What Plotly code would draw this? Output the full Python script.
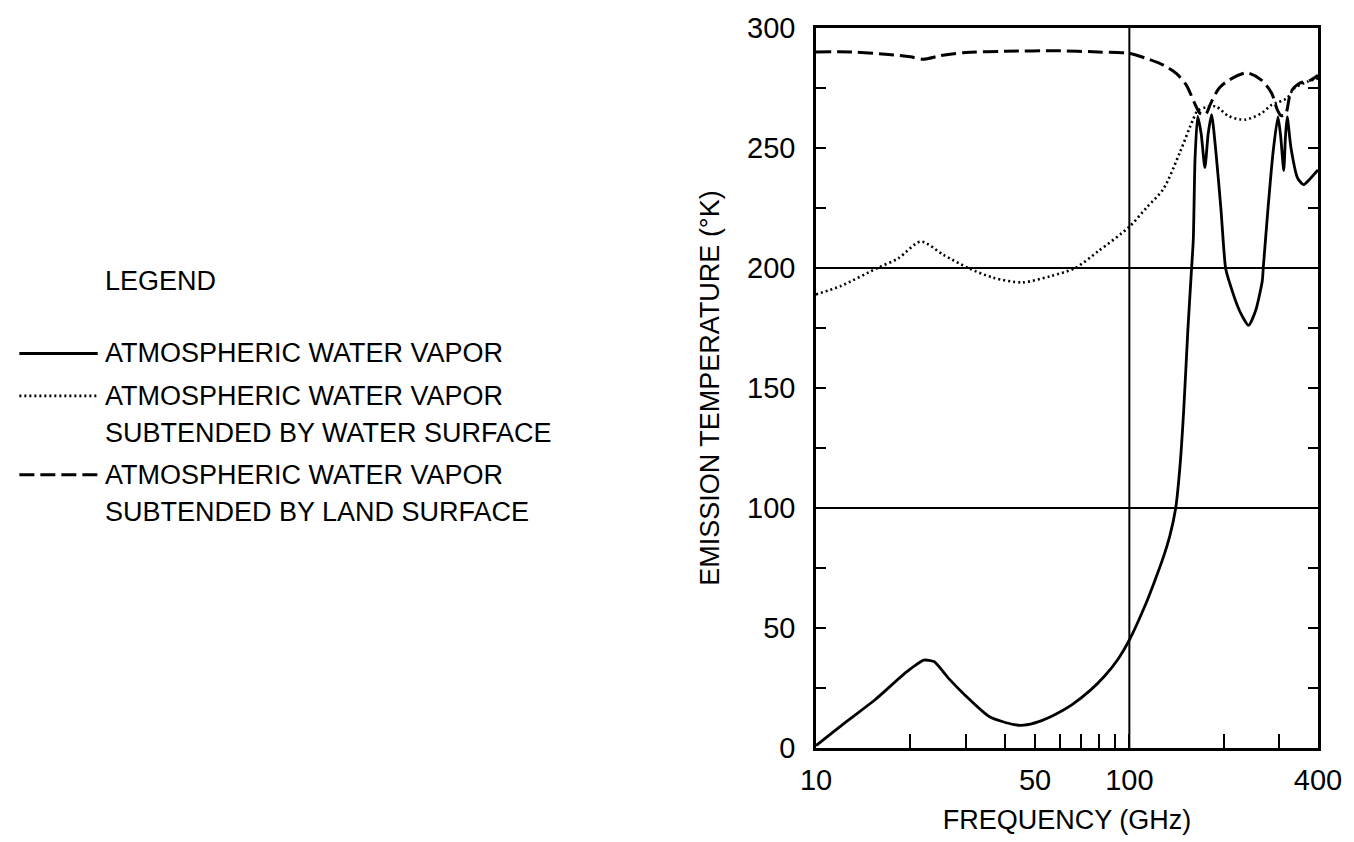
import plotly.graph_objects as go

# ---------------- data ----------------
freq_vapor = [10, 12.5, 15.4, 19.5, 22.1, 23.8, 26.5, 29.9, 35.8, 42.9, 46, 51.4, 58, 65.5, 75,
              83.4, 92, 100, 112.8, 120, 128, 134.7, 140.6, 145, 149, 153.7, 157.5, 160, 162, 165.2,
              169.5, 174.2, 178.5, 183, 188.9, 195.9, 202.8, 208, 224.5, 240, 253, 265.6, 267.5,
              277.5, 287.6, 298, 304, 311, 315, 319, 328, 344, 359.6, 375, 400]
temp_vapor = [1, 11, 20, 31.8, 36.6, 36, 29, 22, 13, 9.7, 9.5, 11, 14, 18, 24,
              30, 37, 45, 60, 69, 79, 88.5, 100, 117, 140, 174, 197, 212, 245, 263.2,
              256, 241.9, 256, 263.9, 248.4, 225, 200, 194.6, 182.3, 176.1, 182.3, 194.6, 200,
              226, 248.4, 263, 255, 240.6, 255, 263, 250, 237.6, 234.7, 236.8, 240.9]

freq_water = [10, 12, 15.7, 18.3, 21.6, 25.5, 30.6, 36.7, 45.4, 56, 67.2, 79.4, 100, 113.9, 128.5,
              144.8, 159.6, 165, 176, 188.9, 208, 234, 264, 284.6, 298, 311, 320, 336, 370, 400]
temp_water = [189, 192.5, 200, 204, 211, 205.5, 200, 196, 194, 196.6, 200, 206.9, 217.2, 225.4, 233,
              248, 261.8, 265.5, 267, 267.3, 263.2, 261.8, 264.5, 268, 269, 270, 271, 274.9, 277.6, 279]

freq_land = [10, 13, 17, 20, 22, 25, 30, 40, 60, 79.4, 100, 113.9, 128.5, 141.4, 152, 161.5, 168,
             175, 182, 193.3, 208, 237, 264, 284.6, 296.5, 305, 315, 328, 348, 379, 400]
temp_land = [290, 290, 289, 288, 287, 288.5, 289.8, 290.3, 290.5, 290, 289.4, 287.2, 284.5, 281,
             276.2, 268.7, 264.5, 264, 268.7, 274.9, 278.3, 281.3, 278.3, 272.8, 266, 263.5, 264,
             273.5, 276.9, 278.3, 280.3]

series_names = ["ATMOSPHERIC WATER VAPOR",
                "ATMOSPHERIC WATER VAPOR<br>SUBTENDED BY WATER SURFACE",
                "ATMOSPHERIC WATER VAPOR<br>SUBTENDED BY LAND SURFACE"]

x_tick_values = [10, 20, 30, 40, 50, 60, 70, 80, 90, 100, 200, 300, 400]
x_tick_labels = ["10", "", "", "", "50", "", "", "", "", "100", "", "", "400"]
y_tick_values = [0, 25, 50, 75, 100, 125, 150, 175, 200, 225, 250, 275, 300]
y_tick_labels = ["0", "", "50", "", "100", "", "150", "", "200", "", "250", "", "300"]
grid_y = [100, 200]
grid_x = [100]

# ---------------- layout geometry ----------------
W, H = 1354, 842
ML, MR, MT, MB = 816, 32, 24, 88
FONT = "Liberation Sans, Arial, Helvetica, sans-serif"

def px_x(px):
    return (px - ML) / (W - ML - MR)

def px_y(py):
    return 1 - (py - MT) / (H - MT - MB)

styles = [dict(color="black", width=2.8),
          dict(color="black", width=2.6, dash="2px,3px"),
          dict(color="black", width=3, dash="15px,6px")]

fig = go.Figure()
fig.add_trace(go.Scatter(x=freq_vapor, y=temp_vapor, mode="lines", name=series_names[0],
                         line=dict(**styles[0], shape="spline", smoothing=0.6)))
fig.add_trace(go.Scatter(x=freq_water, y=temp_water, mode="lines", name=series_names[1],
                         line=dict(**styles[1], shape="spline", smoothing=0.8)))
fig.add_trace(go.Scatter(x=freq_land, y=temp_land, mode="lines", name=series_names[2],
                         line=dict(**styles[2], shape="spline", smoothing=0.8)))

shapes = []
for gy in grid_y:
    shapes.append(dict(type="line", xref="paper", yref="y", x0=0, x1=1, y0=gy, y1=gy,
                       line=dict(color="black", width=2), layer="below"))
for gx in grid_x:
    shapes.append(dict(type="line", xref="x", yref="paper", x0=gx, x1=gx, y0=0, y1=1,
                       line=dict(color="black", width=2), layer="below"))

# custom legend (samples + text)
LEG_FONT = dict(family=FONT, size=27, color="black")
annotations = [dict(text="LEGEND", xref="paper", yref="paper", x=px_x(97), y=px_y(281),
                    xanchor="left", yanchor="middle", showarrow=False, font=LEG_FONT)]
legend_rows = [(354, [series_names[0]]),
               (397, series_names[1].split("<br>")),
               (477, series_names[2].split("<br>"))]
line_gap = 38
for (row_y, lines), st in zip(legend_rows, styles):
    shapes.append(dict(type="line", xref="paper", yref="paper", x0=px_x(13), x1=px_x(92),
                       y0=px_y(row_y), y1=px_y(row_y), line=st))
    for k, txt in enumerate(lines):
        annotations.append(dict(text=txt, xref="paper", yref="paper", x=px_x(97),
                                y=px_y(row_y + k * line_gap), xanchor="left", yanchor="middle",
                                showarrow=False, font=LEG_FONT))

fig.update_layout(
    width=W, height=H,
    margin=dict(l=ML, r=MR, t=MT, b=MB),
    paper_bgcolor="white", plot_bgcolor="white",
    showlegend=False,
    font=dict(family=FONT, color="black"),
    shapes=shapes, annotations=annotations,
    xaxis=dict(type="log", range=[1, 2.60206], tickvals=x_tick_values, ticktext=x_tick_labels,
               ticks="inside", ticklen=14, tickwidth=1.5, tickcolor="black",
               showline=True, linecolor="black", linewidth=2.5, mirror=True,
               showgrid=False, zeroline=False, ticklabelstandoff=4,
               tickfont=dict(family=FONT, size=29),
               title=dict(text="FREQUENCY (GHz)", font=dict(family=FONT, size=27), standoff=16)),
    yaxis=dict(range=[0, 300], tickvals=y_tick_values, ticktext=y_tick_labels,
               ticks="inside", ticklen=10, tickwidth=2, tickcolor="black",
               showline=True, linecolor="black", linewidth=2.5, mirror="ticks",
               showgrid=False, zeroline=False, ticklabelstandoff=12,
               tickfont=dict(family=FONT, size=29),
               title=dict(text="EMISSION TEMPERATURE (°K)", font=dict(family=FONT, size=27), standoff=20)),
)

fig.write_html("out.html")
